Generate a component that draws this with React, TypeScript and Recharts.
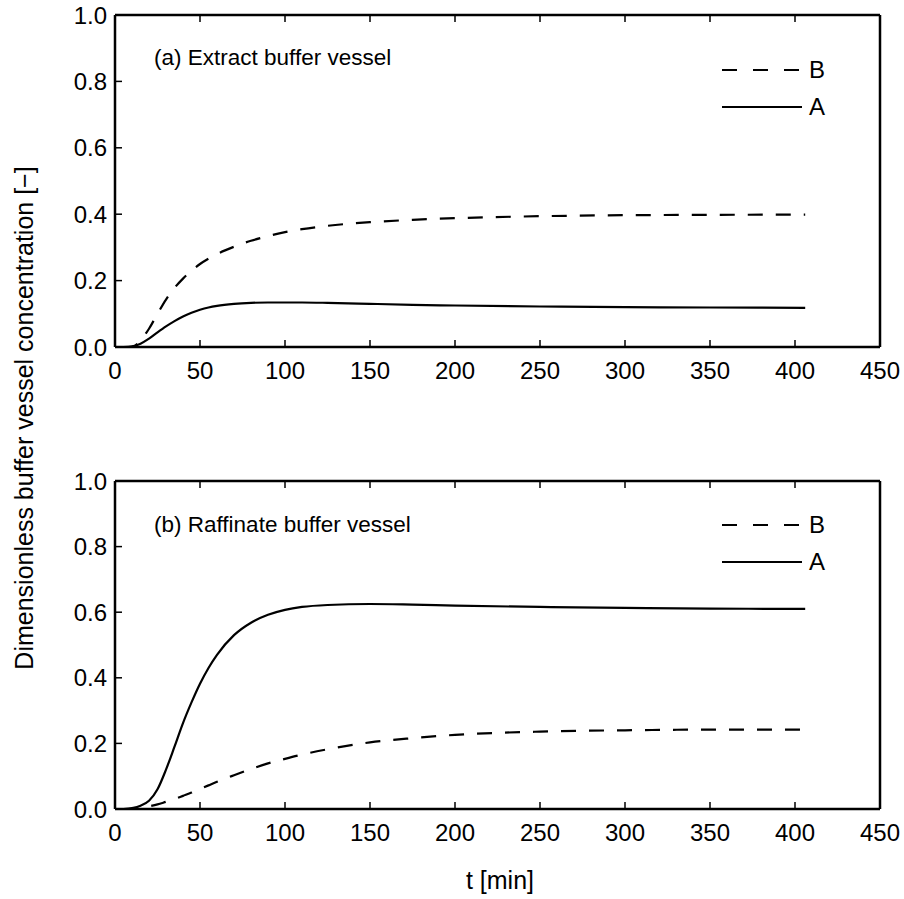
import { LineChart, Line, XAxis, YAxis } from 'recharts';

// time points [min]
const tMin = [5, 10, 15, 20, 25, 30, 35, 40, 45, 50, 55, 60, 70, 80, 90, 100, 110, 125, 150, 175, 200, 250, 300, 350, 406];

// (a) extract buffer vessel
const extractB = [0, 0, 0.02, 0.055, 0.1, 0.143, 0.178, 0.206, 0.23, 0.25, 0.266, 0.28, 0.302, 0.32, 0.334, 0.346, 0.355, 0.365, 0.376, 0.383, 0.388, 0.394, 0.397, 0.398, 0.399];
const extractA = [0, 0.002, 0.01, 0.025, 0.044, 0.062, 0.078, 0.092, 0.103, 0.112, 0.119, 0.124, 0.13, 0.133, 0.134, 0.134, 0.134, 0.133, 0.13, 0.127, 0.125, 0.122, 0.12, 0.119, 0.118];

// (b) raffinate buffer vessel
const raffinateB = [0, 0, 0.003, 0.008, 0.014, 0.022, 0.03, 0.04, 0.05, 0.061, 0.072, 0.083, 0.103, 0.122, 0.139, 0.153, 0.166, 0.182, 0.203, 0.216, 0.226, 0.236, 0.24, 0.242, 0.242];
const raffinateA = [0, 0.003, 0.01, 0.025, 0.06, 0.12, 0.19, 0.262, 0.325, 0.382, 0.43, 0.47, 0.53, 0.568, 0.592, 0.607, 0.616, 0.622, 0.625, 0.623, 0.62, 0.616, 0.613, 0.611, 0.61];

const xTicks = [0, 50, 100, 150, 200, 250, 300, 350, 400, 450];
const yTicks = [0, 0.2, 0.4, 0.6, 0.8, 1.0];

const FONT = '"Liberation Sans", Arial, Helvetica, sans-serif';
const DASH = '15 13';

const series = [
  { key: 'B', dash: DASH },
  { key: 'A', dash: undefined },
];

function rows(a: number[], b: number[]) {
  return tMin.map((t, i) => ({ t, A: a[i], B: b[i] }));
}

const panels = [
  { top: 0, plotH: 332, data: rows(extractA, extractB), title: '(a) Extract buffer vessel', legendY: [70, 107], titleY: 65 },
  { top: 466, plotH: 328, data: rows(raffinateA, raffinateB), title: '(b) Raffinate buffer vessel', legendY: [525, 562], titleY: 532 },
];

const noLabel = () => '';

function Panel({ top, plotH, data }: { top: number; plotH: number; data: any[] }) {
  const axisLine = { stroke: '#000', strokeWidth: 2.5 };
  const tickLine = { stroke: '#000', strokeWidth: 1.5 };
  const tickStyle = { fill: '#000', fontSize: 24, fontFamily: FONT };
  return (
    <div style={{ position: 'absolute', left: 0, top }}>
      <LineChart
        width={904}
        height={plotH + 68}
        data={data}
        margin={{ top: 10, right: 19, left: 55, bottom: 13 }}
      >
        <XAxis
          xAxisId="b"
          dataKey="t"
          type="number"
          domain={[0, 450]}
          ticks={xTicks}
          height={40}
          axisLine={axisLine}
          tickLine={tickLine}
          tickSize={-7}
          tickMargin={22}
          tick={tickStyle}
          interval={0}
        />
        <XAxis
          xAxisId="t"
          orientation="top"
          dataKey="t"
          type="number"
          domain={[0, 450]}
          ticks={xTicks}
          height={5}
          axisLine={axisLine}
          tickLine={tickLine}
          tickSize={-7}
          tickFormatter={noLabel}
          interval={0}
        />
        <YAxis
          yAxisId="l"
          type="number"
          domain={[0, 1]}
          ticks={yTicks}
          width={60}
          axisLine={axisLine}
          tickLine={tickLine}
          tickSize={-7}
          tickMargin={15}
          tick={tickStyle}
          tickFormatter={(v: number) => v.toFixed(1)}
          interval={0}
        />
        <YAxis
          yAxisId="r"
          orientation="right"
          type="number"
          domain={[0, 1]}
          ticks={yTicks}
          width={5}
          axisLine={axisLine}
          tickLine={tickLine}
          tickSize={-7}
          tickFormatter={noLabel}
          interval={0}
        />
        {series.map((s) => (
          <Line
            key={s.key}
            xAxisId="b"
            yAxisId="l"
            type="monotone"
            dataKey={s.key}
            stroke="#000"
            strokeWidth={2.2}
            strokeDasharray={s.dash}
            dot={false}
            isAnimationActive={false}
          />
        ))}
      </LineChart>
    </div>
  );
}

export default function App() {
  return (
    <div style={{ position: 'absolute', left: 0, top: 0, width: 904, height: 899, background: '#fff', fontFamily: FONT }}>
      {panels.map((p, i) => (
        <Panel key={i} top={p.top} plotH={p.plotH} data={p.data} />
      ))}
      <svg width={904} height={899} style={{ position: 'absolute', left: 0, top: 0, pointerEvents: 'none' }}>
        {panels.map((p, i) => (
          <g key={i} fontFamily={FONT} fill="#000">
            <text x={154} y={p.titleY} fontSize={22.5}>{p.title}</text>
            {series.map((s, j) => (
              <g key={s.key}>
                <line x1={722} x2={802} y1={p.legendY[j]} y2={p.legendY[j]} stroke="#000" strokeWidth={2.2} strokeDasharray={s.dash ? '15 16' : undefined} />
                <text x={809} y={p.legendY[j]} dy="0.35em" fontSize={24}>{s.key}</text>
              </g>
            ))}
          </g>
        ))}
        <text x={500} y={889} textAnchor="middle" fontSize={25} fontFamily={FONT}>t [min]</text>
        <text
          transform="translate(33, 418) rotate(-90)"
          textAnchor="middle"
          fontSize={25}
          fontFamily={FONT}
        >
          Dimensionless buffer vessel concentration [−]
        </text>
      </svg>
    </div>
  );
}
